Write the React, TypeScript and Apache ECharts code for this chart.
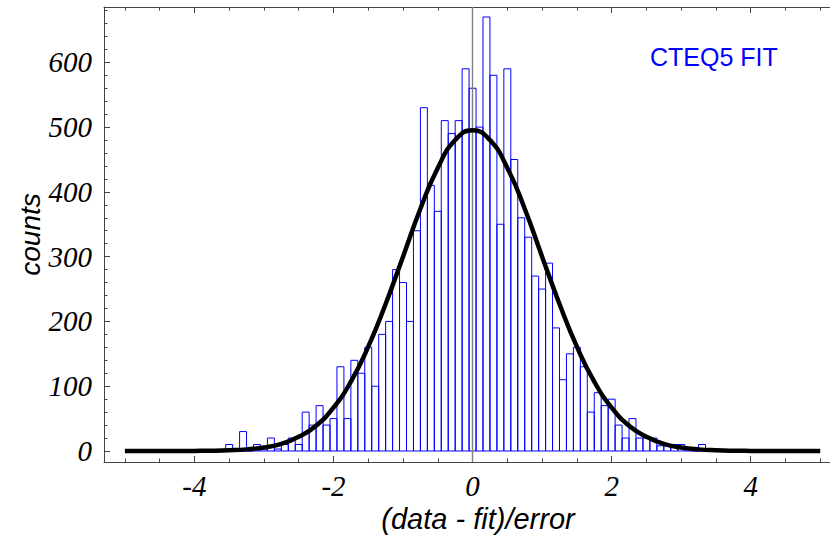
import React, { useEffect, useRef } from "react";
import * as echarts from "echarts";

// Histogram bins: bin centres (data - fit)/error and counts
const binCenters = [
  -3.5, -3.4, -3.3, -3.2, -3.1, -3.0, -2.9, -2.8, -2.7, -2.6, -2.5, -2.4, -2.3, -2.2, -2.1,
  -2.0, -1.9, -1.8, -1.7, -1.6, -1.5, -1.4, -1.3, -1.2, -1.1,
  -1.0, -0.9, -0.8, -0.7, -0.6, -0.5, -0.4, -0.3, -0.2, -0.1,
  0.0, 0.1, 0.2, 0.3, 0.4, 0.5, 0.6, 0.7, 0.8, 0.9,
  1.0, 1.1, 1.2, 1.3, 1.4, 1.5, 1.6, 1.7, 1.8, 1.9,
  2.0, 2.1, 2.2, 2.3, 2.4, 2.5, 2.6, 2.7, 2.8, 2.9,
  3.0, 3.1, 3.2, 3.3,
];
const binCounts = [
  10, 0, 30, 0, 10, 3, 20, 3, 10, 20, 10, 60, 40, 70, 40,
  50, 130, 50, 140, 120, 160, 100, 180, 200, 280,
  260, 200, 340, 530, 410, 370, 510, 490, 510, 590,
  560, 500, 670, 580, 350, 590, 450, 360, 330, 270,
  250, 290, 190, 110, 150, 160, 130, 60, 90, 70,
  80, 40, 20, 50, 20, 20, 20, 8, 8, 10,
  10, 3, 0, 10,
];
const BIN_WIDTH = 0.1;

// Fitted curve
const curveX = [
  -5, -4.75, -4.5, -4.25, -4, -3.75, -3.5, -3.25, -3, -2.75, -2.5, -2.25, -2, -1.75, -1.5, -1.25, -1, -0.75, -0.5, -0.25,
  0, 0.25, 0.5, 0.75, 1, 1.25, 1.5, 1.75, 2, 2.25, 2.5, 2.75, 3, 3.25, 3.5, 3.75, 4, 4.25, 4.5, 4.75, 5,
];
const curveY = [
  0, 0, 0, 0.06, 0.17, 0.4, 1.1, 2.5, 5.5, 11, 22, 39, 67, 107, 161, 227, 300, 374, 437, 480,
  495, 480, 437, 374, 300, 227, 161, 107, 67, 39, 22, 11, 5.5, 2.5, 1.1, 0.4, 0.17, 0.06, 0, 0, 0,
];

// Axis ticks / labels
const xMajorTicks = [-4, -2, 0, 2, 4];
const xMinorTicks = [-5, -4.5, -3.5, -3, -2.5, -1.5, -1, -0.5, 0.5, 1, 1.5, 2.5, 3, 3.5, 4.5, 5];
const yMajorTicks = [0, 100, 200, 300, 400, 500, 600];
const yMinorTicks = [
  20, 40, 60, 80, 120, 140, 160, 180, 220, 240, 260, 280, 320, 340, 360, 380,
  420, 440, 460, 480, 520, 540, 560, 580, 620, 640, 660, 680,
];

const X_MIN = -5.3;
const X_MAX = 5.14;
const Y_MIN = -17;
const Y_MAX = 685.4;

const frameColor = "#444";
const tickFont = {
  color: "#000",
  fontFamily: "Liberation Serif",
  fontStyle: "italic" as const,
  fontSize: 29,
  lineHeight: 29,
};

function buildOption() {
  const barData = binCenters.map((c, i) => [c, binCounts[i]]);
  const curveData = curveX.map((x, i) => [x, curveY[i]]);

  const baseX = {
    type: "value" as const,
    min: X_MIN,
    max: X_MAX,
    splitLine: { show: false },
  };
  const baseY = {
    type: "value" as const,
    min: Y_MIN,
    max: Y_MAX,
    splitLine: { show: false },
  };

  return {
    animation: false,
    backgroundColor: "#fff",
    grid: {
      left: 104,
      top: 7,
      right: 0,
      bottom: 74,
      containLabel: false,
      outerBoundsMode: "none",
    },
    xAxis: [
      {
        ...baseX,
        position: "bottom",
        axisLine: { show: true, onZero: false, lineStyle: { color: frameColor, width: 1 } },
        axisTick: {
          show: true,
          inside: true,
          length: 6,
          customValues: xMajorTicks,
          lineStyle: { color: frameColor },
        },
        axisLabel: {
          ...tickFont,
          margin: 9,
          customValues: xMajorTicks,
          formatter: (v: number) => String(v),
        },
        name: "(data - fit)/error",
        nameLocation: "middle",
        nameGap: 43,
        nameMoveOverlap: false,
        nameTextStyle: {
          color: "#000",
          fontFamily: "Liberation Sans",
          fontStyle: "italic",
          fontSize: 29,
          lineHeight: 28,
          padding: [0, 0, 0, 22],
        },
      },
      {
        ...baseX,
        position: "bottom",
        axisLine: { show: false, onZero: false },
        axisTick: {
          show: true,
          inside: true,
          length: 3.5,
          customValues: xMinorTicks,
          lineStyle: { color: frameColor },
        },
        axisLabel: { show: false },
      },
      {
        ...baseX,
        position: "top",
        axisLine: { show: true, onZero: false, lineStyle: { color: frameColor, width: 1 } },
        axisTick: {
          show: true,
          inside: true,
          length: 6,
          customValues: xMajorTicks,
          lineStyle: { color: frameColor },
        },
        axisLabel: { show: false },
      },
      {
        ...baseX,
        position: "top",
        axisLine: { show: false, onZero: false },
        axisTick: {
          show: true,
          inside: true,
          length: 3.5,
          customValues: xMinorTicks,
          lineStyle: { color: frameColor },
        },
        axisLabel: { show: false },
      },
    ],
    yAxis: [
      {
        ...baseY,
        position: "left",
        axisLine: { show: true, onZero: false, lineStyle: { color: frameColor, width: 1 } },
        axisTick: {
          show: true,
          inside: true,
          length: 6,
          customValues: yMajorTicks,
          lineStyle: { color: frameColor },
        },
        axisLabel: {
          ...tickFont,
          margin: 12,
          customValues: yMajorTicks,
          formatter: (v: number) => String(v),
        },
        name: "counts",
        nameLocation: "middle",
        nameGap: 60,
        nameMoveOverlap: false,
        nameTextStyle: {
          color: "#000",
          fontFamily: "Liberation Sans",
          fontStyle: "italic",
          fontSize: 28,
        },
      },
      {
        ...baseY,
        position: "left",
        axisLine: { show: false, onZero: false },
        axisTick: {
          show: true,
          inside: true,
          length: 3.5,
          customValues: yMinorTicks,
          lineStyle: { color: frameColor },
        },
        axisLabel: { show: false },
      },
    ],
    graphic: [
      {
        type: "text",
        left: 650,
        top: 44,
        style: {
          text: "CTEQ5 FIT",
          fill: "#0000ff",
          font: "25px 'Liberation Sans', Arial, sans-serif",
        },
      },
    ],
    series: [
      {
        type: "custom",
        name: "histogram",
        xAxisIndex: 0,
        yAxisIndex: 0,
        z: 2,
        data: barData,
        renderItem: (params: any, api: any) => {
          const x = api.value(0);
          const v = api.value(1);
          const p0 = api.coord([x - BIN_WIDTH / 2, v]);
          const p1 = api.coord([x + BIN_WIDTH / 2, 0]);
          return {
            type: "rect",
            shape: { x: p0[0], y: p0[1], width: p1[0] - p0[0], height: p1[1] - p0[1] },
            style: { fill: "none", stroke: "#0000ff", lineWidth: 1 },
          };
        },
      },
      {
        type: "line",
        name: "fit",
        xAxisIndex: 0,
        yAxisIndex: 0,
        z: 10,
        data: curveData,
        smooth: true,
        showSymbol: false,
        symbol: "none",
        lineStyle: { color: "#000", width: 4.5 },
        markLine: {
          silent: true,
          symbol: "none",
          z: 5,
          label: { show: false },
          lineStyle: { color: "#808080", width: 1.4, type: "solid" },
          data: [{ xAxis: 0 }],
        },
      },
    ],
  };
}

export default function App() {
  const ref = useRef<HTMLDivElement>(null);
  useEffect(() => {
    if (!ref.current) return;
    const chart = echarts.init(ref.current, null, { renderer: "svg" });
    chart.setOption(buildOption() as any);
    return () => chart.dispose();
  }, []);
  return (
    <div
      ref={ref}
      style={{ position: "fixed", left: 0, top: 0, width: 830, height: 536, background: "#fff" }}
    />
  );
}
